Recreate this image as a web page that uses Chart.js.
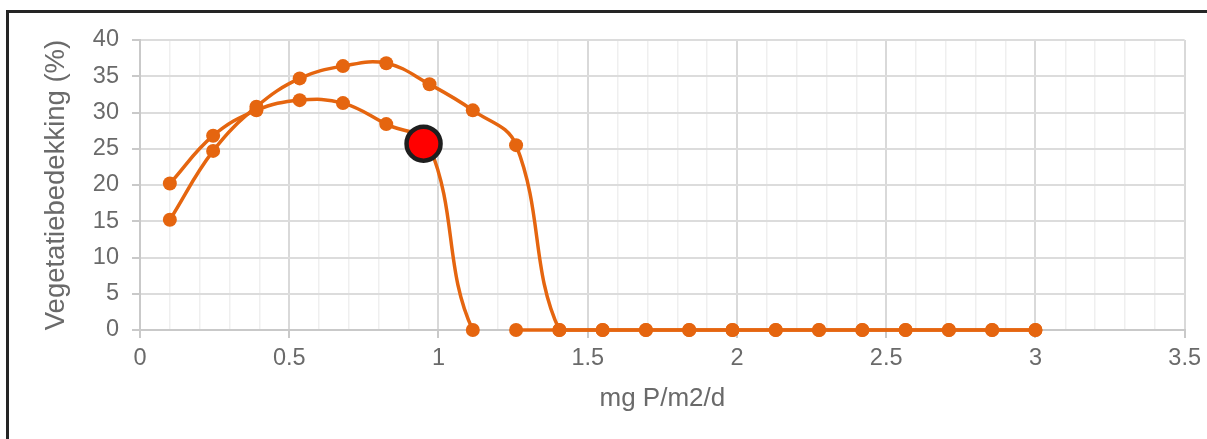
<!DOCTYPE html>
<html>
<head>
<meta charset="utf-8">
<title>Vegetatiebedekking</title>
<script src="https://cdn.jsdelivr.net/npm/chart.js@4.4.1/dist/chart.umd.min.js"></script>
<style>
    html, body { margin: 0; padding: 0; background: #fff; overflow: hidden; }
    #wrap { position: relative; width: 1207px; height: 439px; }
    #frame {
        position: absolute; left: 6px; top: 10px; width: 1300px; height: 500px;
        border-top: 3px solid #252525; border-left: 3px solid #252525;
        pointer-events: none;
    }
</style>
</head>
<body>
<div id="wrap">
    <canvas id="chart" width="1207" height="439"></canvas>
    <div id="frame"></div>
</div>
<script>
    "use strict";

    // belasting (mg P/m2/d)
    var xValues = [0.1, 0.245, 0.39, 0.535, 0.68, 0.825, 0.97, 1.115, 1.26, 1.405, 1.55,
                   1.695, 1.84, 1.985, 2.13, 2.275, 2.42, 2.565, 2.71, 2.855, 3.0];

    // vegetatiebedekking (%) - curve that starts low and ends at 1.4
    var upperY = [15.2, 24.7, 30.8, 34.7, 36.4, 36.8, 33.9, 30.3, 25.5, 0, 0,
                  0, 0, 0, 0, 0, 0, 0, 0, 0, 0];

    // curve that starts higher and collapses at 1.1
    var lowerY = [20.2, 26.8, 30.3, 31.7, 31.3, 28.4, 25.3, 0, 0, 0, 0,
                  0, 0, 0, 0, 0, 0, 0, 0, 0, 0];
    var lowerGapAfter = 7; // no line between these two zero points

    // current state
    var currentX = [0.95];
    var currentY = [25.7];

    var yTicks = [0, 5, 10, 15, 20, 25, 30, 35, 40];

    var ORANGE = '#e5650f';
    var TEXT = '#6a6a6a';
    var FONT = "'Liberation Sans', Arial, sans-serif";

    function toPoints(xs, ys) {
        var pts = [];
        for (var i = 0; i < xs.length; i++) pts.push({x: xs[i], y: ys[i]});
        return pts;
    }

    function isMajor(v) {
        return Math.abs(v * 2 - Math.round(v * 2)) < 1e-6;
    }

    var lineStyle = {
        borderColor: ORANGE,
        backgroundColor: ORANGE,
        borderWidth: 3.5,
        pointRadius: 7,
        pointBorderWidth: 0,
        pointBackgroundColor: ORANGE,
        tension: 0.4,
        fill: false,
        clip: false,
        order: 1
    };

    var ctx = document.getElementById('chart').getContext('2d');
    new Chart(ctx, {
        type: 'line',
        data: {
            datasets: [
                Object.assign({label: 'A', data: toPoints(xValues, upperY)}, lineStyle),
                Object.assign({
                    label: 'B',
                    data: toPoints(xValues, lowerY),
                    segment: {
                        borderColor: function(c) {
                            return c.p0DataIndex === lowerGapAfter ? 'rgba(0,0,0,0)' : ORANGE;
                        }
                    }
                }, lineStyle),
                {
                    label: 'Huidig',
                    data: toPoints(currentX, currentY),
                    showLine: false,
                    pointRadius: 17,
                    pointBorderWidth: 4.5,
                    pointBackgroundColor: '#ff0000',
                    pointBorderColor: '#1e1e1e',
                    clip: false,
                    order: 0
                }
            ]
        },
        options: {
            responsive: false,
            animation: false,
            events: [],
            layout: { padding: { left: 0, top: 40, right: 20, bottom: 0 } },
            plugins: { legend: { display: false }, tooltip: { enabled: false } },
            scales: {
                x: {
                    type: 'linear',
                    min: 0,
                    max: 3.5,
                    afterFit: function(s) { s.height = 109; },
                    border: { color: '#c9c9c9', width: 2 },
                    grid: {
                        lineWidth: function(c) { return isMajor(c.tick.value) ? 2 : 1.5; },
                        color: function(c) { return isMajor(c.tick.value) ? '#d9d9d9' : '#efefef'; },
                        tickColor: function(c) { return isMajor(c.tick.value) ? '#c9c9c9' : 'rgba(0,0,0,0)'; },
                        tickLength: 8
                    },
                    ticks: {
                        stepSize: 0.1,
                        autoSkip: false,
                        maxRotation: 0,
                        padding: 6,
                        color: TEXT,
                        font: { family: FONT, size: 23.5 },
                        callback: function(v) {
                            return isMajor(v) ? String(Math.round(v * 10) / 10) : '';
                        }
                    },
                    title: {
                        display: true,
                        text: 'mg P/m2/d',
                        color: TEXT,
                        font: { family: FONT, size: 26 },
                        padding: { top: 0, bottom: 25 }
                    }
                },
                y: {
                    min: yTicks[0],
                    max: yTicks[yTicks.length - 1],
                    afterFit: function(s) { s.width = 140; },
                    afterBuildTicks: function(s) {
                        s.ticks = yTicks.map(function(v) { return {value: v}; });
                    },
                    border: { color: '#c9c9c9', width: 2 },
                    grid: { color: '#dcdcdc', lineWidth: 2, tickColor: '#c9c9c9', tickLength: 8 },
                    ticks: {
                        padding: 13,
                        color: TEXT,
                        font: { family: FONT, size: 23.5 }
                    },
                    title: {
                        display: true,
                        text: 'Vegetatiebedekking (%)',
                        color: TEXT,
                        font: { family: FONT, size: 27.5 },
                        padding: { top: 40, bottom: 0 }
                    }
                }
            }
        }
    });
</script>
</body>
</html>
